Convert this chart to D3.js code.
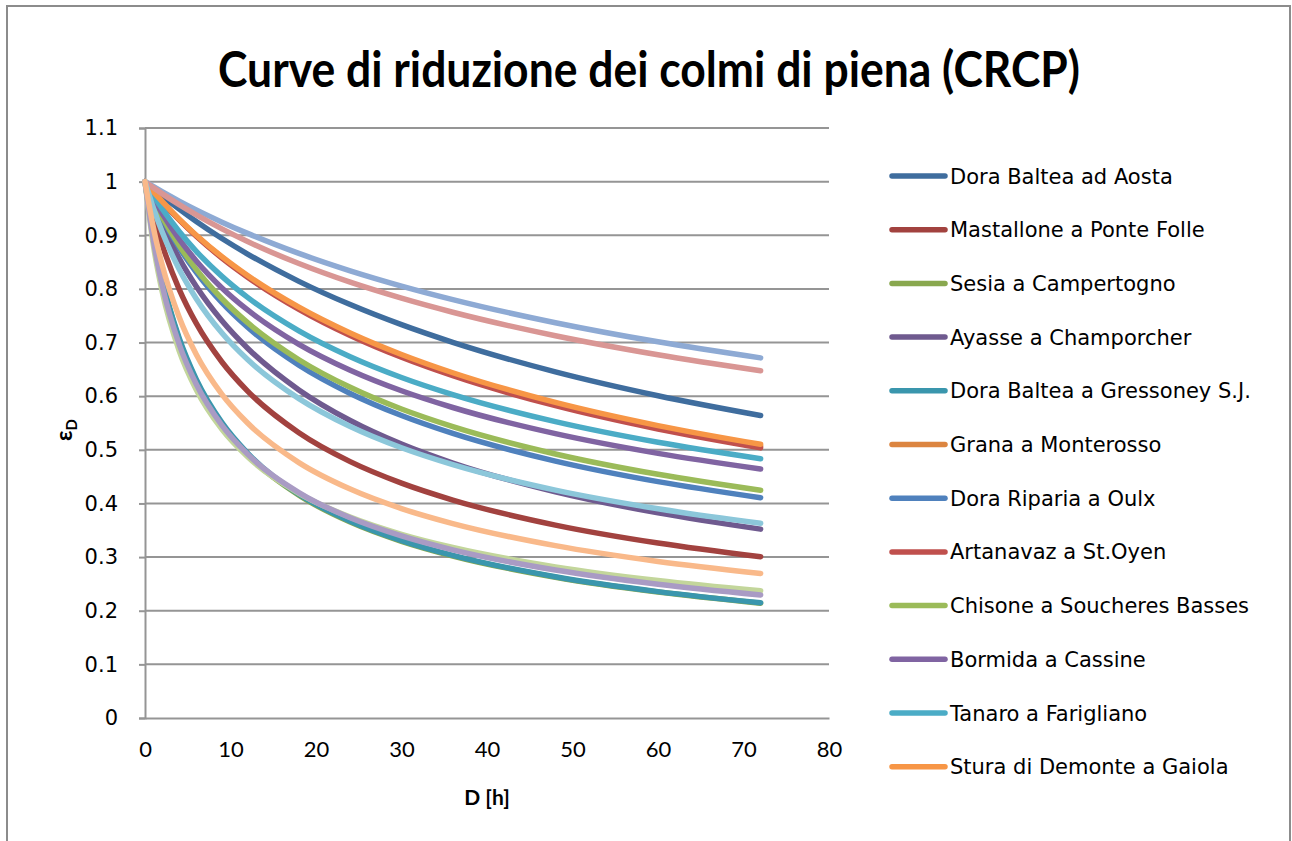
<!DOCTYPE html>
<html>
<head>
<meta charset="utf-8">
<script src="https://cdnjs.cloudflare.com/ajax/libs/d3/7.8.5/d3.min.js"></script>
<style>
  body { margin: 0; background: #fff; }
  svg { display: block; }
</style>
</head>
<body>
<script>
// durations D [h] where the curves were read
const hours = [0, 1, 2, 4, 6, 9, 12, 18, 24, 30, 36, 48, 60, 72];

// epsilon_D values, one array per station
const doraBalteaAosta   = [1, 0.9865, 0.9734, 0.9488, 0.9257, 0.8939, 0.8650, 0.8141, 0.7708, 0.7333, 0.7004, 0.6454, 0.6009, 0.5640];
const mastallone        = [1, 0.9359, 0.8828, 0.7992, 0.7356, 0.6637, 0.6094, 0.5319, 0.4780, 0.4379, 0.4064, 0.3597, 0.3262, 0.3006];
const sesia             = [1, 0.8953, 0.8168, 0.7053, 0.6285, 0.5480, 0.4914, 0.4153, 0.3653, 0.3294, 0.3020, 0.2624, 0.2348, 0.2141];
const ayasse            = [1, 0.9580, 0.9206, 0.8570, 0.8045, 0.7406, 0.6894, 0.6117, 0.5547, 0.5106, 0.4753, 0.4217, 0.3824, 0.3521];
const doraBalteaGress   = [1, 0.8968, 0.8190, 0.7080, 0.6312, 0.5507, 0.4938, 0.4173, 0.3670, 0.3309, 0.3033, 0.2634, 0.2356, 0.2147];
const grana             = [1, 0.9809, 0.9628, 0.9293, 0.8992, 0.8588, 0.8234, 0.7639, 0.7155, 0.6752, 0.6409, 0.5853, 0.5420, 0.5069];
const doraRiparia       = [1, 0.9641, 0.9319, 0.8767, 0.8308, 0.7742, 0.7284, 0.6577, 0.6051, 0.5639, 0.5305, 0.4790, 0.4407, 0.4107];
const artanavaz         = [1, 0.9807, 0.9624, 0.9287, 0.8982, 0.8575, 0.8219, 0.7619, 0.7131, 0.6725, 0.6381, 0.5823, 0.5388, 0.5036];
const chisone           = [1, 0.9654, 0.9344, 0.8810, 0.8365, 0.7816, 0.7370, 0.6680, 0.6165, 0.5760, 0.5432, 0.4923, 0.4543, 0.4245];
const bormida           = [1, 0.9689, 0.9410, 0.8927, 0.8522, 0.8019, 0.7608, 0.6967, 0.6484, 0.6101, 0.5789, 0.5301, 0.4933, 0.4642];
const tanaro            = [1, 0.9737, 0.9496, 0.9069, 0.8701, 0.8234, 0.7842, 0.7218, 0.6736, 0.6349, 0.6029, 0.5525, 0.5140, 0.4834];
const stura             = [1, 0.9810, 0.9631, 0.9300, 0.9001, 0.8601, 0.8250, 0.7659, 0.7178, 0.6778, 0.6437, 0.5884, 0.5452, 0.5103];
// series beyond the visible legend
const serie13           = [1, 0.9905, 0.9813, 0.9638, 0.9473, 0.9245, 0.9035, 0.8661, 0.8337, 0.8053, 0.7801, 0.7370, 0.7014, 0.6714];
const serie14           = [1, 0.9886, 0.9776, 0.9570, 0.9380, 0.9119, 0.8883, 0.8473, 0.8125, 0.7827, 0.7565, 0.7127, 0.6772, 0.6474];
const serie15           = [1, 0.8793, 0.7958, 0.6847, 0.6120, 0.5381, 0.4870, 0.4190, 0.3745, 0.3424, 0.3178, 0.2818, 0.2564, 0.2372];
const serie16           = [1, 0.8882, 0.8076, 0.6967, 0.6222, 0.5456, 0.4920, 0.4203, 0.3733, 0.3395, 0.3135, 0.2758, 0.2493, 0.2293];
const serie17           = [1, 0.9495, 0.9065, 0.8366, 0.7818, 0.7177, 0.6682, 0.5954, 0.5434, 0.5038, 0.4723, 0.4248, 0.3900, 0.3630];
const serie18           = [1, 0.9124, 0.8452, 0.7471, 0.6777, 0.6034, 0.5499, 0.4762, 0.4268, 0.3905, 0.3625, 0.3213, 0.2919, 0.2696];

const seriesNames = [
  'Dora Baltea ad Aosta', 'Mastallone a Ponte Folle', 'Sesia a Campertogno',
  'Ayasse a Champorcher', 'Dora Baltea a Gressoney S.J.', 'Grana a Monterosso',
  'Dora Riparia a Oulx', 'Artanavaz a St.Oyen', 'Chisone a Soucheres Basses',
  'Bormida a Cassine', 'Tanaro a Farigliano', 'Stura di Demonte a Gaiola',
  'Serie 13', 'Serie 14', 'Serie 15', 'Serie 16', 'Serie 17', 'Serie 18'
];
const seriesValues = [
  doraBalteaAosta, mastallone, sesia, ayasse, doraBalteaGress, grana,
  doraRiparia, artanavaz, chisone, bormida, tanaro, stura,
  serie13, serie14, serie15, serie16, serie17, serie18
];
const seriesColors = [
  '#3f6d9e', '#a2423f', '#89a84f', '#6f5a8f', '#3a96ad', '#dc8540',
  '#4f81bd', '#c0504d', '#9bbb59', '#8064a2', '#4bacc6', '#f79646',
  '#8eaad4', '#d99694', '#c3d69b', '#a99bc4', '#8cc7da', '#f9b98a'
];
const legendCount = 12;

const xTicks = [0, 10, 20, 30, 40, 50, 60, 70, 80];
const yTicks = [0, 0.1, 0.2, 0.3, 0.4, 0.5, 0.6, 0.7, 0.8, 0.9, 1, 1.1];

const W = 1292, H = 841;
const gridColor = '#959595';

var svg = d3.select('body').append('svg')
  .attr('width', W)
  .attr('height', H);

//chart frame
svg.append('rect')
  .attr('x', 7).attr('y', 6)
  .attr('width', 1283).attr('height', 900)
  .attr('fill', '#fff')
  .attr('stroke', '#8c8c8c')
  .attr('stroke-width', 2);

var x = d3.scaleLinear().domain([0, 80]).range([145, 829]);
var y = d3.scaleLinear().domain([0, 1.1]).range([718, 128]);

//title
svg.append('text')
  .attr('x', 649).attr('y', 87)
  .attr('text-anchor', 'middle')
  .attr('textLength', 862)
  .attr('lengthAdjust', 'spacingAndGlyphs')
  .style('font-family', 'Lato, "Open Sans", sans-serif')
  .style('font-weight', 'bold')
  .style('font-size', '50px')
  .text('Curve di riduzione dei colmi di piena (CRCP)');

//horizontal gridlines
svg.append('g')
  .selectAll('line')
  .data(yTicks.filter(function(d) { return d > 0; }))
  .enter()
  .append('line')
  .attr('x1', x(0)).attr('x2', x(80))
  .attr('y1', function(d) { return y(d); })
  .attr('y2', function(d) { return y(d); })
  .attr('stroke', gridColor)
  .attr('stroke-width', 2);

//y axis
var yAxis = svg.append('g')
  .attr('transform', 'translate(' + x(0) + ',0)')
  .call(d3.axisLeft(y).tickValues(yTicks).tickSize(6).tickPadding(21)
    .tickFormat(function(d) { return String(d); }));
yAxis.select('.domain').attr('stroke', gridColor).attr('stroke-width', 2);
yAxis.selectAll('.tick line').attr('stroke', gridColor).attr('stroke-width', 2);
yAxis.selectAll('text')
  .attr('fill', '#000')
  .style('font-family', '"DejaVu Sans", sans-serif')
  .style('font-size', '21px');

//x axis
var xAxis = svg.append('g')
  .attr('transform', 'translate(0,' + y(0) + ')')
  .call(d3.axisBottom(x).tickValues(xTicks).tickSize(0).tickPadding(23)
    .tickFormat(function(d) { return String(d); }));
xAxis.select('.domain').attr('stroke', gridColor).attr('stroke-width', 2);
xAxis.selectAll('text')
  .attr('fill', '#000')
  .style('font-family', 'Lato, sans-serif')
  .style('font-size', '22px');

//axis titles
svg.append('text')
  .attr('x', 487).attr('y', 805)
  .attr('text-anchor', 'middle')
  .style('font-family', 'Lato, sans-serif')
  .style('font-weight', 'bold')
  .style('font-size', '21px')
  .text('D [h]');

var yTitle = svg.append('text')
  .attr('transform', 'translate(72,430) rotate(-90)')
  .attr('text-anchor', 'middle')
  .style('font-family', 'Lato, sans-serif')
  .style('font-weight', 'bold')
  .style('font-size', '23px');
yTitle.append('tspan').text('ε');
yTitle.append('tspan').attr('dy', 5).style('font-size', '15px').text('D');

//curves
var line = d3.line()
  .x(function(d) { return x(d[0]); })
  .y(function(d) { return y(d[1]); })
  .curve(d3.curveMonotoneX);

svg.append('g')
  .selectAll('path')
  .data(seriesValues)
  .enter()
  .append('path')
  .attr('d', function(vals) {
    return line(vals.map(function(v, i) { return [hours[i], v]; }));
  })
  .attr('fill', 'none')
  .attr('stroke', function(d, i) { return seriesColors[i]; })
  .attr('stroke-width', 5.5)
  .attr('stroke-linecap', 'round')
  .attr('stroke-linejoin', 'round');

//legend (only the first entries fit)
var legend = svg.append('g')
  .selectAll('g')
  .data(seriesNames.slice(0, legendCount))
  .enter()
  .append('g')
  .attr('transform', function(d, i) { return 'translate(0,' + (176 + i * 53.7) + ')'; });

legend.append('line')
  .attr('x1', 892).attr('x2', 945)
  .attr('stroke', function(d, i) { return seriesColors[i]; })
  .attr('stroke-width', 5.5)
  .attr('stroke-linecap', 'round');

legend.append('text')
  .attr('x', 950)
  .attr('dy', '0.36em')
  .style('font-family', '"DejaVu Sans", sans-serif')
  .style('font-size', '21px')
  .text(function(d) { return d; });
</script>
</body>
</html>
